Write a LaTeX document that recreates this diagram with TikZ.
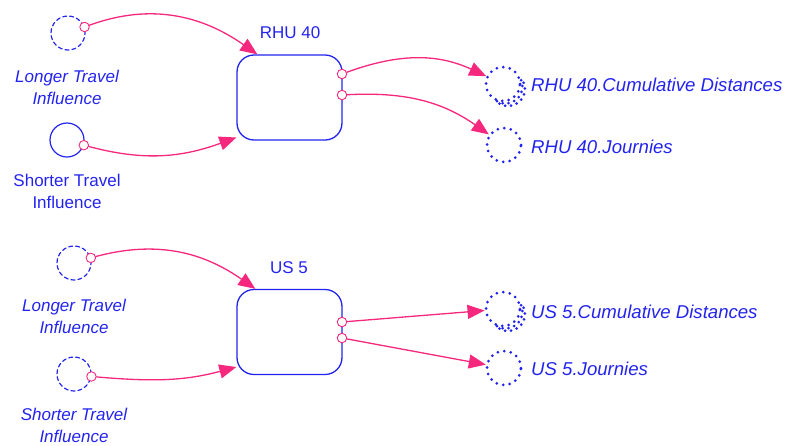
\documentclass[tikz,border=0pt]{standalone}
\usepackage{fontspec}
\setmainfont{Liberation Sans}
\usetikzlibrary{arrows.meta,calc}
\definecolor{vblue}{RGB}{35,35,240}
\definecolor{vpink}{RGB}{245,40,125}
\begin{document}
\begin{tikzpicture}[x=1pt,y=1pt,line cap=round,line join=round,
  every node/.style={inner sep=0pt},
  auxcirc/.style={circle,draw=vblue,line width=1.2pt,minimum size=34pt},
  dashaux/.style={auxcirc,dash pattern=on 4pt off 3pt},
  outcirc/.style={circle,draw=vblue,line width=3pt,dash pattern=on 0pt off 6.6pt,minimum size=34pt},
  dotarc/.style={draw=vblue,line width=3pt,dash pattern=on 0pt off 6pt},
  port/.style={circle,draw=vpink,fill=white,line width=0.9pt,minimum size=9.5pt},
  flowbox/.style={draw=vblue,line width=1.3pt,rounded corners=17pt,minimum width=105pt,minimum height=85pt},
  auxlabel/.style={text=vblue,font=\fontsize{17}{22}\selectfont,align=center},
  outlabel/.style={text=vblue,font=\fontsize{18.6}{22}\selectfont\itshape,anchor=west},
  boxlabel/.style={text=vblue,font=\fontsize{17}{22}\selectfont},
  link/.style={draw=vpink,line width=1.3pt,-{Triangle[length=17pt,width=14pt]}}]
\useasboundingbox (0,0) rectangle (785,-445);
% RHU 40
\node[flowbox] (rhu) at (289.5,-97.5) {};
\node[boxlabel] (rhulbl) at (290,-33) {RHU 40};
\node[dashaux] (lti1) at (68,-33) {};
\node[auxlabel,font=\fontsize{17}{22}\selectfont\itshape] (lti1lbl) at (67,-87) {Longer Travel\\Influence};
\node[auxcirc] (sti1) at (67,-140) {};
\node[auxlabel] (sti1lbl) at (67,-191) {Shorter Travel\\Influence};
\node[outcirc] (cum1) at (503,-84) {};
\foreach \s in {2.5,5}
  \draw[dotarc] ($(cum1.center)+(\s,-\s)$) ++(-120:17) arc (-120:30:17);
\node[outlabel] (cum1lbl) at (531,-85) {RHU 40.Cumulative Distances};
\node[outcirc] (jour1) at (504,-145) {};
\node[outlabel] (jour1lbl) at (531,-147) {RHU 40.Journies};
\node[port] (lti1p) at (lti1.20) {};
\node[port] (sti1p) at (sti1.-17) {};
\node[port] (rhup1) at (342,-74) {};
\node[port] (rhup2) at (342,-95) {};
\draw[link] (lti1p) to[out=20,in=145] ([xshift=21pt]rhu.north west);
\draw[link] (sti1p) to[out=-15,in=200] ([yshift=-40pt]rhu.west);
\draw[link] (rhup1) to[out=20,in=155] (cum1);
\draw[link] (rhup2) to[out=3,in=145] (jour1);
% US 5
\node[flowbox] (us) at (289.5,-332) {};
\node[boxlabel] (uslbl) at (289,-268) {US 5};
\node[dashaux] (lti2) at (74,-263) {};
\node[auxlabel,font=\fontsize{17}{22}\selectfont\itshape] (lti2lbl) at (74,-316) {Longer Travel\\Influence};
\node[dashaux] (sti2) at (74,-374) {};
\node[auxlabel,font=\fontsize{17}{22}\selectfont\itshape] (sti2lbl) at (74,-425) {Shorter Travel\\Influence};
\node[outcirc] (cum2) at (503,-309) {};
\foreach \s in {2.5,5}
  \draw[dotarc] ($(cum2.center)+(\s,-\s)$) ++(-120:17) arc (-120:30:17);
\node[outlabel] (cum2lbl) at (531,-312) {US 5.Cumulative Distances};
\node[outcirc] (jour2) at (504,-368) {};
\node[outlabel] (jour2lbl) at (531,-369) {US 5.Journies};
\node[port] (lti2p) at (lti2.17) {};
\node[port] (sti2p) at (sti2.-8) {};
\node[port] (usp1) at (342,-322) {};
\node[port] (usp2) at (342,-338) {};
\draw[link] (lti2p) to[out=15,in=145] ([xshift=19pt]us.north west);
\draw[link] (sti2p) to[out=-5,in=195] ([yshift=-35pt]us.west);
\draw[link] (usp1) -- (cum2);
\draw[link] (usp2) -- (jour2);
\end{tikzpicture}
\end{document}
